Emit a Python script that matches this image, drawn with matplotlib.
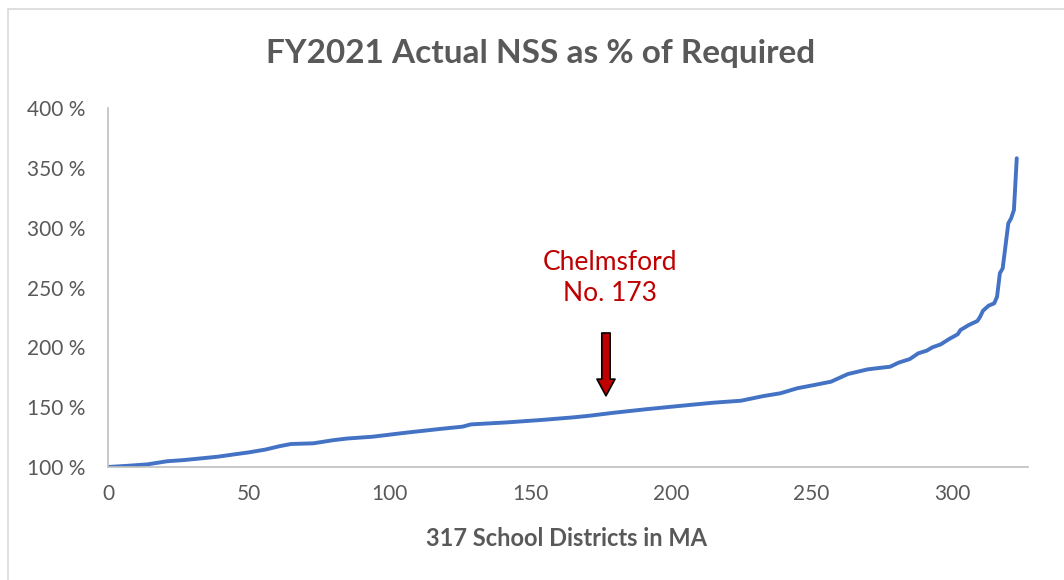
import matplotlib
matplotlib.use("Agg")
import matplotlib.pyplot as plt
from matplotlib.patches import Rectangle
from matplotlib.ticker import FuncFormatter

# District rank (sorted) and Actual NSS as % of Required
ranks = [0, 7, 14, 21, 27, 33, 39, 45, 50, 56, 61, 65, 73, 80, 85, 94, 106, 118,
         126, 129, 142, 154, 165, 171, 180, 191, 203, 215, 225, 233, 239, 245,
         251, 257, 263, 270, 275, 278, 281, 285, 288, 291, 293, 296, 299, 302,
         303, 306, 309, 310, 311, 313, 315, 316, 317, 318, 320, 321, 322, 323]
pct = [100.0, 101.0, 102.2, 104.8, 105.8, 107.2, 108.6, 110.6, 112.2, 114.6,
       117.4, 119.2, 119.8, 122.4, 123.8, 125.3, 128.7, 131.8, 133.7, 135.6,
       137.3, 139.3, 141.4, 142.8, 145.4, 148.2, 151.0, 153.7, 155.4, 159.3,
       161.6, 165.8, 168.5, 171.3, 177.7, 181.6, 183.0, 183.8, 187.2, 190.2,
       195.0, 197.2, 200.0, 202.5, 207.0, 210.9, 214.5, 218.7, 222.0, 225.6,
       230.6, 234.8, 236.8, 242.3, 261.9, 266.0, 303.6, 307.8, 314.8, 358.0]

x_ticks = [0, 50, 100, 150, 200, 250, 300]
y_ticks = [100, 150, 200, 250, 300, 350, 400]

title = "FY2021 Actual NSS as % of Required"
x_label = "317 School Districts in MA"
callout = "Chelmsford\nNo. 173"
callout_rank = 177
grey = "#595959"
font = ["Lato", "DejaVu Sans"]

fig = plt.figure(figsize=(10.64, 5.80), dpi=100)
fig.patch.set_facecolor("white")
ax = fig.add_axes([108 / 1064, 1 - 467 / 580, (1028 - 108) / 1064, (467 - 108) / 580])

ax.plot(ranks, pct, color="#4472C4", linewidth=2.8, solid_joinstyle="round",
        solid_capstyle="round")

ax.set_xlim(0, 327)
ax.set_ylim(100, 400)
ax.set_xticks(x_ticks)
ax.set_yticks(y_ticks)
ax.yaxis.set_major_formatter(FuncFormatter(lambda v, p: f"{v:.0f} %"))
ax.tick_params(length=0, labelsize=15, labelcolor=grey)
ax.tick_params(axis="y", pad=16)
ax.tick_params(axis="x", pad=12)
for lab in ax.get_xticklabels() + ax.get_yticklabels():
    lab.set_family(font)
for s in ["top", "right"]:
    ax.spines[s].set_visible(False)
for s in ["left", "bottom"]:
    ax.spines[s].set_color("#BFBFBF")
    ax.spines[s].set_linewidth(1.2)

fig.text(541 / 1064, 1 - 53 / 580, title, ha="center", va="center",
         fontsize=24, fontweight="bold", color=grey, family=font)
fig.text(567 / 1064, 1 - 538 / 580, x_label, ha="center", va="center",
         fontsize=17, fontweight="bold", color=grey, family=font)

# Callout
ax.text(callout_rank + 1.5, 258, callout, ha="center", va="center", fontsize=19,
        color="#C00000", family=font, linespacing=1.3)
ax.annotate("", xy=(callout_rank, 159.5), xytext=(callout_rank, 212),
            arrowprops=dict(arrowstyle="simple,head_length=1.2,head_width=1.3,tail_width=0.6",
                            facecolor="#C00000", edgecolor="black", linewidth=1.2,
                            shrinkA=0, shrinkB=0))

# Chart border
fig.patches.append(Rectangle((8 / 1064, -0.05), 1.1, 1 - 9 / 580 + 0.05,
                             transform=fig.transFigure, fill=False,
                             edgecolor="#D9D9D9", linewidth=1.2))

fig.savefig("out.png", dpi=100, facecolor="white")
